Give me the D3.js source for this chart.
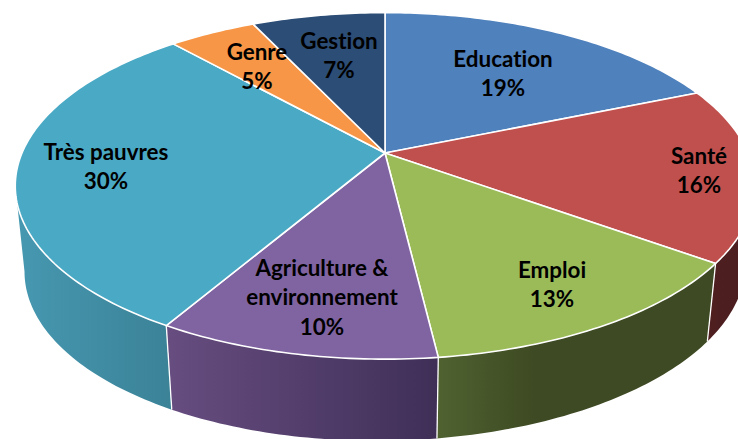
<!DOCTYPE html>
<html><head><meta charset="utf-8">
<script src="https://cdnjs.cloudflare.com/ajax/libs/d3/7.8.5/d3.min.js"></script>
<style>html,body{margin:0;padding:0;background:#fff;overflow:hidden}svg{display:block}</style>
</head><body><svg id="c" width="738" height="439"></svg>
<script>
const categories = ["Education","Santé","Emploi","Agriculture & environnement","Très pauvres","Genre","Gestion"];
const values = [18.7,16.3,13.1,10.3,30.0,4.6,7.0];
const topColors = ["#4f81bd","#c0504d","#9bbb59","#8064a2","#4aa9c4","#f79646","#2c4d75"];
const wallLeft = ["#3b5f8c","#4f1f20","#4f6230","#674d80","#4698b1","#b86f33","#203a58"];
const wallRight = ["#3b5f8c","#4a1d1e","#3e4a23","#3f2f57","#3b8297","#b86f33","#203a58"];
const labelLines = [["Education"],["Santé"],["Emploi"],["Agriculture &","environnement"],["Très pauvres"],["Genre"],["Gestion"]];
const labelCentres = [[503,59.5],[699,156.5],[552,270.5],[322,268.5],[106,152.5],[257,52.5],[339,41.5]];

const apexX=385, apexY=153, rx=363, ry=167, persp=0.19, fontPx=22.4, lineH=29.5;
const svg=d3.select("#c");
const defs=svg.append("defs");
const color=d3.scaleOrdinal(categories,topColors);
const colorL=d3.scaleOrdinal(categories,wallLeft);
const colorR=d3.scaleOrdinal(categories,wallRight);
const pct=d3.format(".0f");
const arcs=d3.pie().sort(null).value(d=>d.v)(categories.map((c,i)=>({c,v:values[i],i})));

// perspective projection of the disc
const upper=a=>{const u=Math.sin(a),v=-Math.cos(a),w=1-persp*v;
  return [apexX+rx*u/w, apexY+ry*v/w];};
const lower=a=>{const [x,y]=upper(a);
  return [apexX+(x-apexX)*0.975, y+84-6*(x-168)/548];};
const lineGen=d3.line();
const samples=(a0,a1)=>{const n=Math.max(4,Math.ceil((a1-a0)*60));
  return d3.range(n+1).map(i=>a0+(a1-a0)*i/n);};

// the wall is only visible between the disc's rightmost and leftmost points
const sweep=d3.range(0,2*Math.PI,0.002);
const frontStart=sweep[d3.greatestIndex(sweep,a=>upper(a)[0])];
const frontEnd=sweep[d3.leastIndex(sweep,a=>upper(a)[0])];

const wallsG=svg.append("g");
arcs.forEach((d,i)=>{
  const a0=Math.max(d.startAngle,frontStart), a1=Math.min(d.endAngle,frontEnd);
  if(a1<=a0) return;
  const as=samples(a0,a1);
  const pts=as.map(upper).concat(as.slice().reverse().map(lower));
  const xs=pts.map(p=>p[0]);
  const id="w"+i;
  const g=defs.append("linearGradient").attr("id",id).attr("gradientUnits","userSpaceOnUse")
    .attr("x1",d3.min(xs)).attr("x2",d3.max(xs)).attr("y1",0).attr("y2",0);
  g.append("stop").attr("offset",0).attr("stop-color",colorL(d.data.c));
  g.append("stop").attr("offset",d.data.c==="Emploi"?0.35:1).attr("stop-color",colorR(d.data.c));
  wallsG.append("path").attr("d",lineGen(pts)+"Z").attr("fill",`url(#${id})`);
});
// white dividers between walls
arcs.filter(d=>d.startAngle>frontStart&&d.startAngle<frontEnd).forEach(d=>{
  wallsG.append("path").attr("d",lineGen([upper(d.startAngle),lower(d.startAngle)]))
    .attr("stroke","#fff").attr("stroke-width",1.3).attr("fill","none");
});

// top faces
const topsG=svg.append("g");
arcs.forEach(d=>{
  const pts=[[apexX,apexY]].concat(samples(d.startAngle,d.endAngle).map(upper));
  topsG.append("path").attr("d",lineGen(pts)+"Z").attr("fill",color(d.data.c))
    .attr("stroke","#fff").attr("stroke-width",1.6).attr("stroke-linejoin","round");
});

// labels
const labelsG=svg.append("g").attr("font-family","Lato, 'Open Sans', sans-serif")
  .attr("font-weight",700).attr("font-size",fontPx).attr("fill","#000").attr("text-anchor","middle")
  .style("font-variant-ligatures","none");
arcs.forEach((d,i)=>{
  const [cx,cy]=labelCentres[i];
  const rows=labelLines[i].concat([pct(d.data.v)+"%"]);
  rows.forEach((t,j)=>labelsG.append("text").attr("x",cx).attr("y",cy+j*lineH+7).text(t));
});
</script></body></html>
